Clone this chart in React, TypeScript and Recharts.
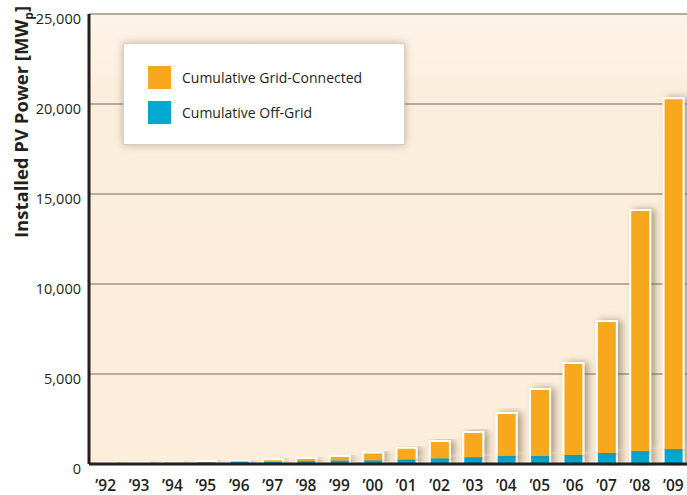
import React from 'react';
import { BarChart, Bar, XAxis, YAxis, CartesianGrid, Legend } from 'recharts';

const years = ['’92', '’93', '’94', '’95', '’96', '’97', '’98', '’99', '’00', '’01', '’02', '’03', '’04', '’05', '’06', '’07', '’08', '’09'];
const offGrid = [50, 60, 75, 95, 110, 130, 160, 200, 210, 260, 320, 380, 460, 460, 500, 610, 720, 830];
const gridConnected = [40, 50, 65, 75, 100, 140, 170, 240, 430, 640, 960, 1400, 2370, 3710, 5110, 7330, 13390, 19490];
const yTicks = [0, 5000, 10000, 15000, 20000, 25000];
const seriesNames = ['Cumulative Grid-Connected', 'Cumulative Off-Grid'];

const ORANGE = '#F8A81E';
const BLUE = '#02A8D1';
const FONT = '"Open Sans", "DejaVu Sans", sans-serif';

const data = years.map((year, i) => ({ year, offGrid: offGrid[i], grid: gridConnected[i] }));

const BlueShape = (props: any) => {
  const { x, y, width, height } = props;
  if (!height || height <= 0) return null;
  return (
    <g filter="url(#barShadow)">
      <rect x={x} y={y} width={width} height={height} fill={BLUE} />
      <path d={`M${x},${y} L${x},${y + height} L${x + width},${y + height} L${x + width},${y}`} fill="none" stroke="#fff" strokeWidth={2} />
    </g>
  );
};

const OrangeShape = (props: any) => {
  const { x, y, width, height } = props;
  if (!height || height <= 0) return null;
  return (
    <g filter="url(#barShadow)">
      <rect x={x} y={y} width={width} height={height} fill={ORANGE} />
      <path d={`M${x},${y + height} L${x},${y} L${x + width},${y} L${x + width},${y + height}`} fill="none" stroke="#fff" strokeWidth={2} />
    </g>
  );
};

const YTick = (props: any) => {
  const { x, y, payload } = props;
  return (
    <text x={x} y={y + 4} textAnchor="end" dominantBaseline="central" fontFamily={FONT} fontSize={14.5} fill="#231f20">
      {Number(payload.value).toLocaleString('en-US')}
    </text>
  );
};

const XTick = (props: any) => {
  const { x, y, payload } = props;
  return (
    <text x={x} y={y + 13} textAnchor="middle" dominantBaseline="central" fontFamily={FONT} fontSize={15.5} fontWeight={600} fill="#231f20">
      {payload.value}
    </text>
  );
};

const YLabel = () => (
  <text transform="translate(28,122) rotate(-90)" textAnchor="middle" fontFamily={FONT} fontSize={18.5} fontWeight={700} fill="#231f20">
    Installed PV Power [MW<tspan fontSize={12} dy={5}>p</tspan><tspan dy={-5}>]</tspan>
  </text>
);

const LegendBox = () => (
  <div
    style={{
      width: 282,
      height: 102,
      boxSizing: 'border-box',
      background: '#fff',
      border: '1px solid #d4d0cc',
      boxShadow: '0 0 8px rgba(90,70,50,0.35)',
      position: 'relative',
      fontFamily: FONT,
      fontSize: 14,
      color: '#231f20',
    }}
  >
    {seriesNames.map((name, i) => (
      <div key={name} style={{ position: 'absolute', left: 24, top: 22 + i * 35, display: 'flex', alignItems: 'center', height: 23 }}>
        <div style={{ width: 23, height: 23, background: i === 0 ? ORANGE : BLUE }} />
        <span style={{ marginLeft: 11, whiteSpace: 'nowrap' }}>{name}</span>
      </div>
    ))}
  </div>
);

export default function App() {
  return (
    <div style={{ position: 'absolute', left: 0, top: 0, width: 687, height: 495, overflow: 'hidden', background: '#fff' }}>
      <svg width={0} height={0} style={{ position: 'absolute' }}>
        <defs>
          <filter id="barShadow" x="-50%" y="-10%" width="200%" height="120%">
            <feDropShadow dx={4} dy={0} stdDeviation={3.5} floodColor="#6e5a3e" floodOpacity={0.55} />
          </filter>
          <linearGradient id="bgGrad" x1="0" y1="0" x2="0" y2="1">
            <stop offset="0%" stopColor="#FDF3E6" />
            <stop offset="13%" stopColor="#FDF1E2" />
            <stop offset="15%" stopColor="#FCEEDC" />
            <stop offset="100%" stopColor="#FCEEDB" />
          </linearGradient>
        </defs>
      </svg>
      <BarChart width={700} height={495} data={data} margin={{ top: 14, right: 10, left: 0, bottom: 0 }} barSize={20}>
        <CartesianGrid vertical={false} stroke="#b6ab9c" strokeWidth={2} fill="url(#bgGrad)" />
        <YAxis
          width={89}
          domain={[0, 25000]}
          ticks={yTicks}
          tickLine={false}
          axisLine={{ stroke: '#231f20', strokeWidth: 3 }}
          tick={<YTick />}
          label={{ content: <YLabel /> }}
        />
        <XAxis
          dataKey="year"
          height={31}
          tickLine={false}
          axisLine={{ stroke: '#231f20', strokeWidth: 3 }}
          tick={<XTick />}
          interval={0}
        />
        <Bar dataKey="offGrid" stackId="a" fill={BLUE} shape={<BlueShape />} isAnimationActive={false} />
        <Bar dataKey="grid" stackId="a" fill={ORANGE} shape={<OrangeShape />} isAnimationActive={false} />
        <Legend
          layout="vertical"
          align="center"
          verticalAlign="middle"
          wrapperStyle={{ position: 'absolute', left: 123, top: 43, width: 282, height: 102 }}
          content={() => <LegendBox />}
        />
      </BarChart>
    </div>
  );
}
